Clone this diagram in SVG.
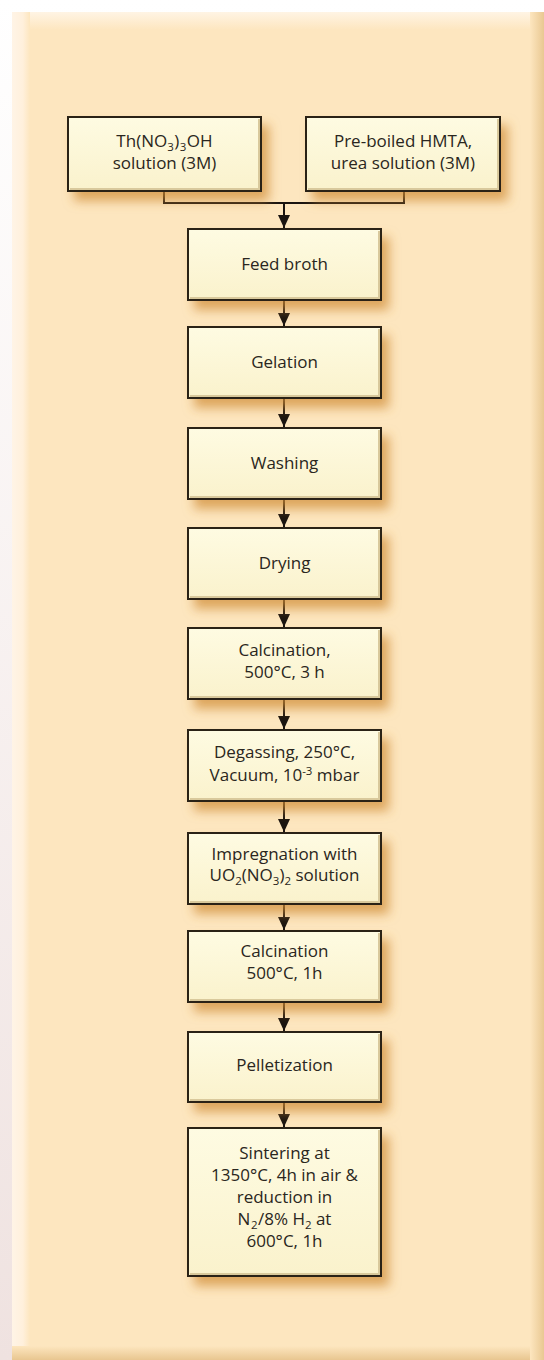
<svg xmlns="http://www.w3.org/2000/svg" width="544" height="1360" viewBox="0 0 544 1360">
<defs>
<linearGradient id="outer" x1="0" y1="0" x2="0" y2="1">
<stop offset="0" stop-color="#ffffff"/>
<stop offset="1" stop-color="#efe2e0"/>
</linearGradient>
<linearGradient id="boxfill" x1="0" y1="0" x2="0" y2="1">
<stop offset="0" stop-color="#fefbe2"/>
<stop offset="1" stop-color="#faf2cc"/>
</linearGradient>
<linearGradient id="topHi" x1="0" y1="0" x2="0" y2="1">
<stop offset="0" stop-color="#fff4e4"/>
<stop offset="1" stop-color="#fde6bf"/>
</linearGradient>
<linearGradient id="leftHi" x1="0" y1="0" x2="1" y2="0">
<stop offset="0" stop-color="#fff4e6"/>
<stop offset="0.6" stop-color="#fff0dc"/>
<stop offset="1" stop-color="#fde6bf"/>
</linearGradient>
<linearGradient id="botSh" x1="0" y1="0" x2="0" y2="1">
<stop offset="0" stop-color="#fde6bf"/>
<stop offset="1" stop-color="#e8c690"/>
</linearGradient>
<linearGradient id="rightSh" x1="0" y1="0" x2="1" y2="0">
<stop offset="0" stop-color="#fde6bf"/>
<stop offset="1" stop-color="#e9c892"/>
</linearGradient>
<filter id="shadow" x="-20%" y="-30%" width="150%" height="180%">
<feDropShadow dx="7" dy="9" stdDeviation="5.5" flood-color="#cf8a36" flood-opacity="0.7"/>
</filter>
<marker id="arrow" markerUnits="userSpaceOnUse" markerWidth="13" markerHeight="13" viewBox="0 0 13 13" refX="13" refY="6.5" orient="auto">
<path d="M0,0.5 L13,6.5 L0,12.5 Z" fill="#1a1410"/>
</marker>
</defs>
<style>
.box{fill:url(#boxfill);stroke:#2b2319;stroke-width:2;filter:url(#shadow)}
.lo{fill:none;stroke:#d9c99c;stroke-width:2}
.t{font-family:"Open Sans","Noto Sans","Liberation Sans",sans-serif;font-size:17px;fill:#2a2620;text-anchor:middle}
.sub{font-size:11.5px}
.con{fill:none;stroke:#1a1410;stroke-width:2}
</style>

<!-- page and panel -->
<rect x="0" y="0" width="544" height="1360" fill="url(#outer)"/>
<rect x="12" y="12" width="532" height="1348" fill="#fde6bf"/>
<rect x="12" y="12" width="528" height="18" fill="url(#topHi)"/>
<rect x="12" y="12" width="18" height="1346" fill="url(#leftHi)"/>
<rect x="12" y="1346" width="532" height="14" fill="url(#botSh)"/>
<rect x="530" y="12" width="14" height="1348" fill="url(#rightSh)"/>

<!-- connectors -->
<g id="connectors">
<path class="con" d="M164,191 V203 H404 V191"/>
<line class="con" x1="284" y1="203" x2="284" y2="228" marker-end="url(#arrow)"/>
<line class="con" x1="284" y1="300" x2="284" y2="326" marker-end="url(#arrow)"/>
<line class="con" x1="284" y1="398" x2="284" y2="427" marker-end="url(#arrow)"/>
<line class="con" x1="284" y1="499" x2="284" y2="527" marker-end="url(#arrow)"/>
<line class="con" x1="284" y1="599" x2="284" y2="627" marker-end="url(#arrow)"/>
<line class="con" x1="284" y1="699" x2="284" y2="729" marker-end="url(#arrow)"/>
<line class="con" x1="284" y1="801" x2="284" y2="832" marker-end="url(#arrow)"/>
<line class="con" x1="284" y1="904" x2="284" y2="930" marker-end="url(#arrow)"/>
<line class="con" x1="284" y1="1002" x2="284" y2="1031" marker-end="url(#arrow)"/>
<line class="con" x1="284" y1="1102" x2="284" y2="1127" marker-end="url(#arrow)"/>
</g>

<g id="n-thorium">
<rect class="box" x="68" y="117" width="193" height="74"/>
<path class="lo" d="M70,189 H259 V119"/>
<text class="t" x="164.5" y="147">Th(NO<tspan class="sub" dy="4">3</tspan><tspan dy="-4" dx="0.5">)</tspan><tspan class="sub" dy="4" dx="0.5">3</tspan><tspan dy="-4" dx="0.5">OH</tspan></text>
<text class="t" x="164.5" y="169">solution (3M)</text>
</g>

<g id="n-hmta">
<rect class="box" x="306" y="117" width="194" height="74"/>
<path class="lo" d="M308,189 H498 V119"/>
<text class="t" x="403" y="147">Pre-boiled HMTA,</text>
<text class="t" x="403" y="169">urea solution (3M)</text>
</g>

<g id="n-feed">
<rect class="box" x="188" y="229" width="193" height="71"/>
<path class="lo" d="M190,298 H379 V231"/>
<text class="t" x="284.5" y="270">Feed broth</text>
</g>

<g id="n-gelation">
<rect class="box" x="188" y="327" width="193" height="71"/>
<path class="lo" d="M190,396 H379 V329"/>
<text class="t" x="284.5" y="368">Gelation</text>
</g>

<g id="n-washing">
<rect class="box" x="188" y="428" width="193" height="71"/>
<path class="lo" d="M190,497 H379 V430"/>
<text class="t" x="284.5" y="469">Washing</text>
</g>

<g id="n-drying">
<rect class="box" x="188" y="528" width="193" height="71"/>
<path class="lo" d="M190,597 H379 V530"/>
<text class="t" x="284.5" y="569">Drying</text>
</g>

<g id="n-calc1">
<rect class="box" x="188" y="628" width="193" height="71"/>
<path class="lo" d="M190,697 H379 V630"/>
<text class="t" x="284.5" y="656">Calcination,</text>
<text class="t" x="284.5" y="678">500°C, 3 h</text>
</g>

<g id="n-degas">
<rect class="box" x="188" y="730" width="193" height="71"/>
<path class="lo" d="M190,799 H379 V732"/>
<text class="t" x="284.5" y="758">Degassing, 250°C,</text>
<text class="t" x="284.5" y="781">Vacuum, 10<tspan class="sub" dy="-6">-3</tspan><tspan dy="6"> mbar</tspan></text>
</g>

<g id="n-impreg">
<rect class="box" x="188" y="833" width="193" height="71"/>
<path class="lo" d="M190,902 H379 V835"/>
<text class="t" x="284.5" y="860">Impregnation with</text>
<text class="t" x="284.5" y="881">UO<tspan class="sub" dy="4">2</tspan><tspan dy="-4">(NO</tspan><tspan class="sub" dy="4">3</tspan><tspan dy="-4">)</tspan><tspan class="sub" dy="4">2</tspan><tspan dy="-4"> solution</tspan></text>
</g>

<g id="n-calc2">
<rect class="box" x="188" y="931" width="193" height="71"/>
<path class="lo" d="M190,1000 H379 V933"/>
<text class="t" x="284.5" y="957">Calcination</text>
<text class="t" x="284.5" y="979">500°C, 1h</text>
</g>

<g id="n-pellet">
<rect class="box" x="188" y="1032" width="193" height="70"/>
<path class="lo" d="M190,1100 H379 V1034"/>
<text class="t" x="284.5" y="1071">Pelletization</text>
</g>

<g id="n-sinter">
<rect class="box" x="188" y="1128" width="193" height="148"/>
<path class="lo" d="M190,1274 H379 V1130"/>
<text class="t" x="284.5" y="1159">Sintering at</text>
<text class="t" x="284.5" y="1181">1350°C, 4h in air &amp;</text>
<text class="t" x="284.5" y="1203">reduction in</text>
<text class="t" x="284.5" y="1225">N<tspan class="sub" dy="4" dx="0.5">2</tspan><tspan dy="-4" dx="0.5">/8% H</tspan><tspan class="sub" dy="4">2</tspan><tspan dy="-4"> at</tspan></text>
<text class="t" x="284.5" y="1247">600°C, 1h</text>
</g>
</svg>
